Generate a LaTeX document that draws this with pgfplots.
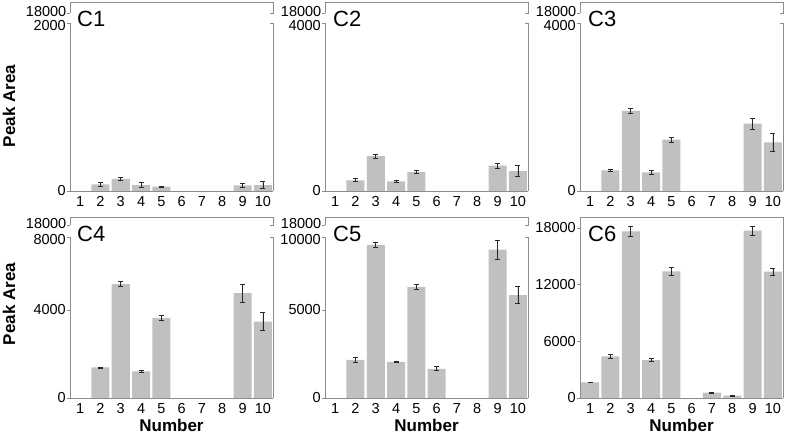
\documentclass[border=0pt]{standalone}
\usepackage{fontspec}
\setmainfont{Liberation Sans}
\usepackage{pgfplots}
\usepackage{pgfplotstable}
\pgfplotsset{compat=1.18}
\definecolor{barfill}{RGB}{192,192,192}
\definecolor{framec}{RGB}{140,140,140}
\definecolor{errc}{RGB}{40,40,40}

% C1
\pgfplotstableread{
x y e
2 80 20
3 143 18
4 71 30
5 52 6
9 68 24
10 71 44
}\dataCa
% C2
\pgfplotstableread{
x y e
2 254 36
3 833 44
4 230 30
5 452 28
9 603 52
10 476 130
}\dataCb
% C3
\pgfplotstableread{
x y e
2 492 24
3 1905 55
4 444 55
5 1222 60
9 1603 127
10 1159 210
}\dataCc
% C4
\pgfplotstableread{
x y e
2 1390 25
3 5176 105
4 1208 30
5 3636 98
9 4770 400
10 3472 400
}\dataCd
% C5
\pgfplotstableread{
x y e
2 2168 123
3 8698 160
4 2055 47
5 6321 150
6 1659 113
9 8434 540
10 5847 470
}\dataCe
% C6
\pgfplotstableread{
x y e
1 1650 40
2 4400 210
3 17630 530
4 4020 140
5 13400 400
7 560 40
8 250 25
9 17700 490
10 13370 390
}\dataCf

\pgfplotsset{
  lowax/.style={
    anchor=south west, scale only axis, width=203pt,
    xmin=0.5, xmax=10.5, ymin=0,
    axis x line*=bottom, axis y line*=left,
    axis line style={framec, line width=0.7pt},
    xtick={1,...,10},
    xtick style={draw=none},
    ytick style={framec, line width=0.7pt},
    tick align=outside, major tick length=3pt,
    scaled y ticks=false, scaled x ticks=false,
    /pgf/number format/assume math mode=true,
    tick label style={font=\fontsize{14.5}{16}\selectfont},
    yticklabel style={inner sep=1pt},
    xticklabel style={inner sep=2pt},
    clip=false,
  },
  upax/.style={
    anchor=south west, scale only axis, width=203pt,
    xmin=0.5, xmax=10.5, ymin=18000, ymax=19000,
    axis x line*=top, axis y line*=left,
    axis line style={framec, line width=0.7pt},
    xtick=\empty, ytick={18000}, yticklabels={18000},
    ytick style={framec, line width=0.7pt},
    tick align=outside, major tick length=3pt,
    scaled y ticks=false, scaled x ticks=false,
    /pgf/number format/assume math mode=true,
    tick label style={font=\fontsize{14.5}{16}\selectfont},
    yticklabel style={inner sep=0.5pt, yshift=1.5pt},
    clip=false,
  },
  mybars/.style={
    ybar, bar width=18pt, fill=barfill, draw=none,
    error bars/.cd, y dir=both, y explicit,
    error bar style={errc, line width=0.7pt},
    error mark options={errc, rotate=90, mark size=2.5pt, line width=0.7pt},
  },
}

\newcommand{\rightlow}{%
  \draw[framec, line width=0.7pt] (rel axis cs:1,0) -- (rel axis cs:1,1) -- ++(-3pt,0pt);}
\newcommand{\rightup}{%
  \draw[framec, line width=0.7pt] (rel axis cs:1,1) -- (rel axis cs:1,0) -- ++(-3pt,0pt);}
\newcommand{\dn}[1]{\raisebox{-2pt}[\height][0pt]{#1}}

\begin{document}
\begin{tikzpicture}
\path[use as bounding box] (0,0) rectangle (787pt,441pt);

% ---------- top row ----------
% C1
\begin{axis}[upax, at={(70pt,428pt)}, height=11pt]
\rightup
\end{axis}
\begin{axis}[lowax, at={(70pt,250pt)}, height=168pt, ymax=2000,
  ytick={0,2000}, yticklabels={0,\dn{2000}}]
\addplot[mybars] table[x=x, y=y, y error=e] {\dataCa};
\rightlow
\end{axis}
% C2
\begin{axis}[upax, at={(325pt,428pt)}, height=11pt]
\rightup
\end{axis}
\begin{axis}[lowax, at={(325pt,250pt)}, height=168pt, ymax=4000,
  ytick={0,4000}, yticklabels={0,\dn{4000}}]
\addplot[mybars] table[x=x, y=y, y error=e] {\dataCb};
\rightlow
\end{axis}
% C3
\begin{axis}[upax, at={(580pt,428pt)}, height=11pt]
\rightup
\end{axis}
\begin{axis}[lowax, at={(580pt,250pt)}, height=168pt, ymax=4000,
  ytick={0,4000}, yticklabels={0,\dn{4000}}]
\addplot[mybars] table[x=x, y=y, y error=e] {\dataCc};
\rightlow
\end{axis}

% ---------- bottom row ----------
% C4
\begin{axis}[upax, at={(70pt,216pt)}, height=8pt]
\rightup
\end{axis}
\begin{axis}[lowax, at={(70pt,43pt)}, height=161pt, ymax=7318,
  ytick={0,4000,7318}, yticklabels={0,4000,\dn{8000}}]
\addplot[mybars] table[x=x, y=y, y error=e] {\dataCd};
\rightlow
\end{axis}
% C5
\begin{axis}[upax, at={(325pt,216pt)}, height=8pt]
\rightup
\end{axis}
\begin{axis}[lowax, at={(325pt,43pt)}, height=161pt, ymax=9148,
  ytick={0,5000,9148}, yticklabels={0,5000,\dn{10000}}]
\addplot[mybars] table[x=x, y=y, y error=e] {\dataCe};
\rightlow
\end{axis}
% C6
\begin{axis}[lowax, at={(580pt,43pt)}, height=181pt, ymax=19150,
  ytick={0,6000,12000,18000}, yticklabels={0,6000,12000,18000}]
\addplot[mybars] table[x=x, y=y, y error=e] {\dataCf};
\draw[framec, line width=0.7pt] (rel axis cs:0,1) -- (rel axis cs:1,1) -- (rel axis cs:1,0);
\end{axis}

% ---------- panel labels ----------
\foreach \lab/\xx/\yy in {C1/77/414, C2/333/414, C3/588/414, C4/77/199, C5/333/199, C6/588/199}{
  \node[anchor=base west, inner sep=0pt, font=\fontsize{22}{24}\selectfont] at (\xx pt,\yy pt) {\lab};
}

% ---------- axis titles ----------
\node[rotate=90, font=\fontsize{17}{19}\selectfont\bfseries] at (9pt,335pt) {Peak Area};
\node[rotate=90, font=\fontsize{17}{19}\selectfont\bfseries] at (9pt,137pt) {Peak Area};
\node[font=\fontsize{17}{19}\selectfont\bfseries] at (171.5pt,16pt) {Number};
\node[font=\fontsize{17}{19}\selectfont\bfseries] at (426.5pt,16pt) {Number};
\node[font=\fontsize{17}{19}\selectfont\bfseries] at (681.5pt,16pt) {Number};
\end{tikzpicture}
\end{document}
